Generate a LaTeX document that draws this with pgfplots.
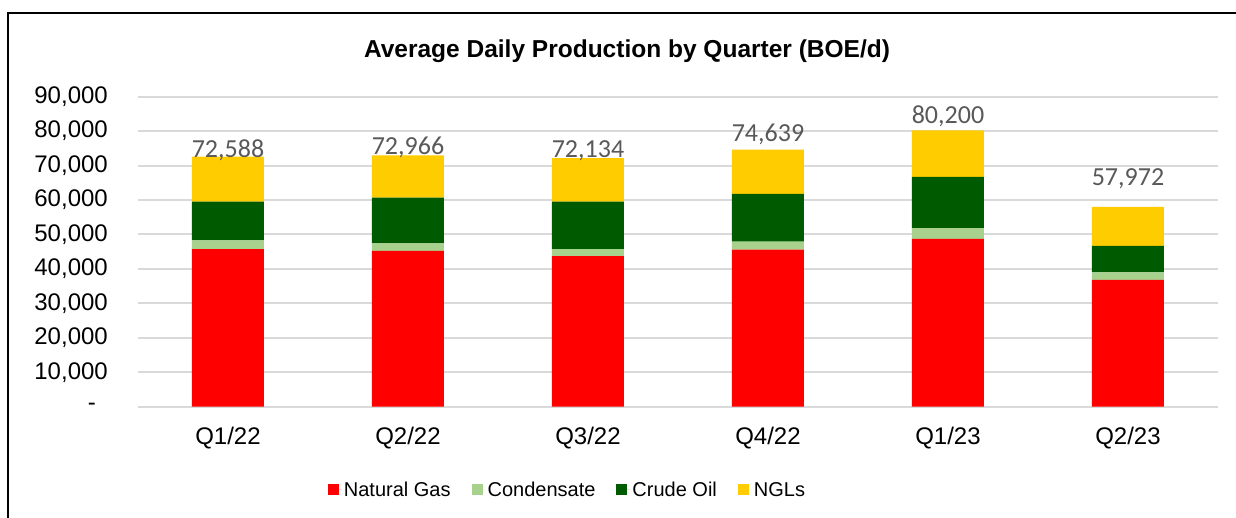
\documentclass[border=0pt]{standalone}
\usepackage{pgfplots}
\pgfplotsset{compat=1.18}
\usepackage{pgfplotstable}
\usepackage{fontspec}
\setmainfont{Liberation Sans}
\newfontfamily\lblfont{Carlito}
\definecolor{cgas}{HTML}{FF0000}
\definecolor{ccond}{HTML}{A9D18E}
\definecolor{ccrude}{HTML}{005A00}
\definecolor{cngl}{HTML}{FFCC00}
\definecolor{gridc}{HTML}{D9D9D9}
\definecolor{clbl}{HTML}{595959}
\pgfplotstableread{
x gas cond crude ngl lab
0 45700 2600 11200 13088 72,588
1 45200 2200 13250 12316 72,966
2 43700 2000 13800 12634 72,134
3 45600 2300 13900 12839 74,639
4 48700 3100 14900 13500 80,200
5 36800 2200 7700 11272 57,972
}\proddata
\begin{document}
\begin{tikzpicture}[x=1pt,y=1pt]
\useasboundingbox (0,0) rectangle (1236,518);
\fill[white] (0,0) rectangle (1236,518);
\draw[line width=2.7pt] (8,-5) -- (8,505) -- (1240,505);
\node[font=\fontsize{24.5}{29}\selectfont\bfseries] at (627,467) {Average Daily Production by Quarter (BOE/d)};
\begin{axis}[
  at={(138pt,111.3pt)}, anchor=south west,
  scale only axis, width=1080pt, height=310.1pt,
  ybar stacked, bar width=72pt,
  xmin=-0.5, xmax=5.5, ymin=0, ymax=90000,
  scaled y ticks=false,
  xtick={0,1,2,3,4,5},
  xticklabels={Q1/22,Q2/22,Q3/22,Q4/22,Q1/23,Q2/23},
  ytick={0,10000,20000,30000,40000,50000,60000,70000,80000,90000},
  yticklabels={{-\hspace*{12pt}},{10,000},{20,000},{30,000},{40,000},{50,000},{60,000},{70,000},{80,000},{90,000}},
  ymajorgrids, major grid style={color=gridc, line width=2pt},
  axis line style={draw=none}, tick style={draw=none},
  ticklabel style={font=\fontsize{24}{28}\selectfont, text=black},
  yticklabel style={anchor=east, inner sep=0pt, xshift=-30pt},
  xticklabel style={anchor=north, inner sep=0pt, yshift=-20pt},
  legend columns=4,
  legend style={at={(0.3977,-0.2686)}, anchor=center, draw=none, fill=none,
    font=\fontsize{20}{24}\selectfont,
    /tikz/every even column/.append style={column sep=19pt}},
  legend cell align=left,
  legend image code/.code={\fill[#1] (0pt,-5.5pt) rectangle (11pt,5.5pt); \path (0pt,0pt) -- (14pt,0pt);},
]
\addplot[fill=cgas, draw=none] table[x=x,y=gas]{\proddata};
\addplot[fill=ccond, draw=none] table[x=x,y=cond]{\proddata};
\addplot[fill=ccrude, draw=none] table[x=x,y=crude]{\proddata};
\addplot[fill=cngl, draw=none, point meta=explicit symbolic,
  nodes near coords,
  visualization depends on={value \coordindex \as \idx},
  every node near coord/.append style={yshift={{28.5,29,29,37,37,48}[\idx]}, inner sep=0pt,
    font=\lblfont\fontsize{26}{31}\selectfont, text=clbl}]
  table[x=x,y=ngl,meta=lab]{\proddata};
\legend{Natural Gas, Condensate, Crude Oil, NGLs}
\end{axis}
\end{tikzpicture}
\end{document}
